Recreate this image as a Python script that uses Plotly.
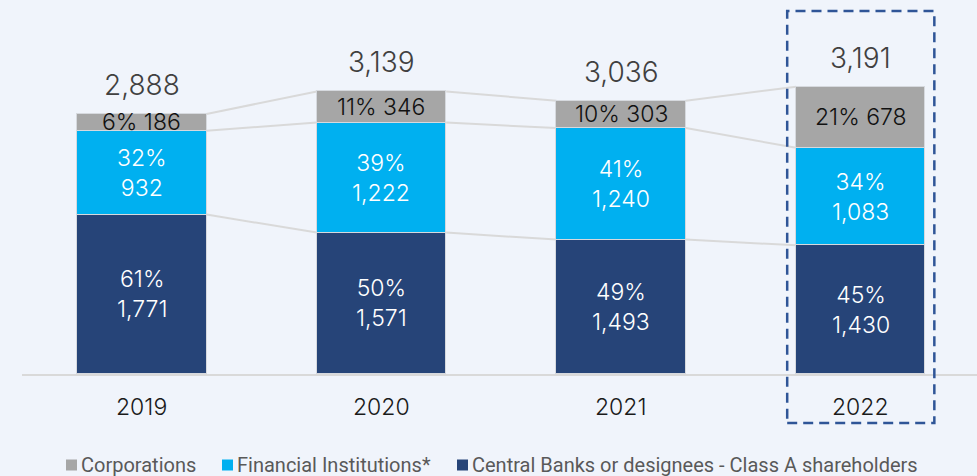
import plotly.graph_objects as go

# Shareholding by investor type, USD millions
years = ["2019", "2020", "2021", "2022"]
central_banks = [1771, 1571, 1493, 1430]
financial_inst = [932, 1222, 1240, 1083]
corporations = [186, 346, 303, 678]
pct_central = ["61%", "50%", "49%", "45%"]
pct_financial = ["32%", "39%", "41%", "34%"]
pct_corporate = ["6%", "11%", "10%", "21%"]
totals = [2888, 3139, 3036, 3191]

legend_labels = ["Corporations", "Financial Institutions*",
                 "Central Banks or designees - Class A shareholders"]

C_DARK = "#264478"
C_BLUE = "#00B0F0"
C_GRAY = "#A6A6A6"
BG = "#F0F4FB"
FONT = "Inter"
WEIGHT = 300

W, H = 977, 476
M_L, M_R, M_T, M_B = 22, 0, 0, 102
PLOT_W = W - M_L - M_R
PLOT_H = H - M_T - M_B

BAR_W = 0.54
X_MIN, X_MAX = -0.5, 3.485
Y_MAX = 4155


def px_to_paper_x(px):
    return (px - M_L) / PLOT_W


def px_to_paper_y(py):
    return (H - M_B - py) / PLOT_H


def xpaper(v):
    return (v - X_MIN) / (X_MAX - X_MIN)


fig = go.Figure()
series = [
    (legend_labels[2], central_banks, C_DARK),
    (legend_labels[1], financial_inst, C_BLUE),
    (legend_labels[0], corporations, C_GRAY),
]
for name, vals, col in series:
    fig.add_trace(go.Bar(
        x=list(range(len(years))), y=vals, name=name, width=BAR_W,
        marker=dict(color=col, line=dict(color="#D6D9DE", width=1)),
        showlegend=False, hoverinfo="skip",
    ))

annotations = []
shapes = []

# segment boundaries per year
lvl_dark = central_banks
lvl_blue = [a + b for a, b in zip(central_banks, financial_inst)]
lvl_top = [a + b + c for a, b, c in zip(central_banks, financial_inst, corporations)]

# connector lines between adjacent bars
for i in range(len(years) - 1):
    for lvl in (lvl_dark, lvl_blue, lvl_top):
        shapes.append(dict(
            type="line", xref="x", yref="y",
            x0=i + BAR_W / 2, x1=i + 1 - BAR_W / 2, y0=lvl[i], y1=lvl[i + 1],
            line=dict(color="#D9D9D9", width=2), layer="below",
        ))

for i in range(len(years)):
    annotations.append(dict(
        x=i, y=central_banks[i] / 2, xref="x", yref="y", showarrow=False,
        text=f"{pct_central[i]}<br>{central_banks[i]:,}",
        font=dict(family=FONT, size=23, color="white", weight=WEIGHT), align="center",
    ))
    annotations.append(dict(
        x=i, y=lvl_dark[i] + financial_inst[i] / 2, xref="x", yref="y", showarrow=False,
        text=f"{pct_financial[i]}<br>{financial_inst[i]:,}",
        font=dict(family=FONT, size=23, color="white", weight=WEIGHT), align="center",
    ))
    annotations.append(dict(
        x=i, y=lvl_blue[i] + corporations[i] / 2, xref="x", yref="y", showarrow=False,
        text=f"{pct_corporate[i]} {corporations[i]:,}",
        font=dict(family=FONT, size=23, color="#111111", weight=WEIGHT), align="center",
    ))
    annotations.append(dict(
        x=i, y=totals[i], xref="x", yref="y", showarrow=False, yanchor="middle", yshift=29,
        text=f"{totals[i]:,}",
        font=dict(family=FONT, size=28, color="#404040", weight=WEIGHT),
    ))
    annotations.append(dict(
        x=i, y=0, xref="x", yref="y", showarrow=False, yanchor="middle", yshift=-33,
        text=years[i],
        font=dict(family=FONT, size=23, color="#1A1A1A", weight=WEIGHT),
    ))

# legend: coloured squares with labels along the bottom
legend_colors = [C_GRAY, C_BLUE, C_DARK]
legend_sq_left = [66, 222, 457]
SQ = 11
LEG_Y = 465
for label, col, sx in zip(legend_labels, legend_colors, legend_sq_left):
    shapes.append(dict(
        type="rect", xref="paper", yref="paper",
        x0=px_to_paper_x(sx), x1=px_to_paper_x(sx + SQ),
        y0=px_to_paper_y(LEG_Y + SQ / 2), y1=px_to_paper_y(LEG_Y - SQ / 2),
        fillcolor=col, line=dict(width=0),
    ))
    annotations.append(dict(
        x=px_to_paper_x(sx + SQ + 2), y=px_to_paper_y(LEG_Y), xref="paper", yref="paper",
        showarrow=False, xanchor="left", yanchor="middle", text=label,
        font=dict(family="Roboto", size=20, color="#595959"),
    ))

# dashed highlight around the latest year
hl = len(years) - 1
shapes.append(dict(
    type="rect", xref="paper", yref="paper",
    x0=xpaper(hl - 0.307), x1=xpaper(hl + 0.307),
    y0=px_to_paper_y(423), y1=px_to_paper_y(11),
    line=dict(color="#2F5597", width=2.5, dash="10px,6px"), fillcolor="rgba(0,0,0,0)",
))

fig.update_layout(
    width=W, height=H, barmode="stack",
    paper_bgcolor=BG, plot_bgcolor=BG,
    margin=dict(l=M_L, r=M_R, t=M_T, b=M_B),
    xaxis=dict(range=[X_MIN, X_MAX], showticklabels=False, showgrid=False, zeroline=False,
               showline=True, linecolor="#D9D9D9", linewidth=2, fixedrange=True),
    yaxis=dict(range=[0, Y_MAX], visible=False, fixedrange=True),
    annotations=annotations, shapes=shapes,
    bargap=0,
)

fig.write_html("out.html")
